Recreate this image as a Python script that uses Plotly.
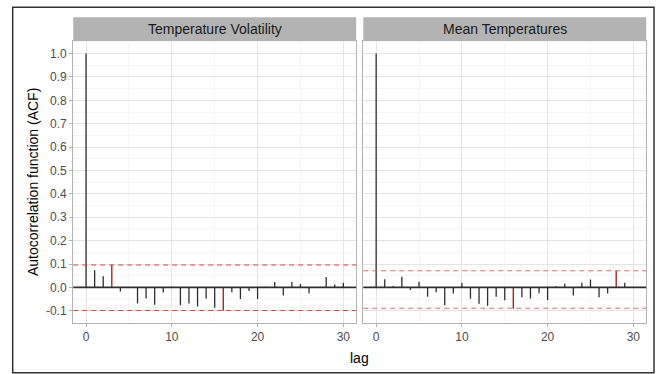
import plotly.graph_objects as go

# ---- data ----
lags = list(range(31))
acf_volatility = [1.0, 0.073, 0.048, 0.097, -0.018, -0.002, -0.069, -0.048, -0.074, -0.022,
                  -0.002, -0.076, -0.069, -0.082, -0.047, -0.087, -0.100, -0.021, -0.050, -0.015,
                  -0.050, 0.004, 0.023, -0.035, 0.023, 0.015, -0.025, 0.002, 0.044, 0.012, 0.020]
acf_mean = [1.0, 0.035, 0.006, 0.046, -0.011, 0.024, -0.040, -0.021, -0.076, -0.026,
            0.020, -0.049, -0.070, -0.079, -0.040, -0.055, -0.091, -0.042, -0.047, -0.025,
            -0.054, 0.005, 0.016, -0.035, 0.020, 0.034, -0.042, -0.026, 0.072, 0.020, 0.001]
ci_volatility = (-0.099, 0.096)
ci_mean = (-0.089, 0.071)
panel_titles = ["Temperature Volatility", "Mean Temperatures"]
y_tick_vals = [-0.1, 0.0, 0.1, 0.2, 0.3, 0.4, 0.5, 0.6, 0.7, 0.8, 0.9, 1.0]
y_tick_text = ["-0.1", "0.0", "0.1", "0.2", "0.3", "0.4", "0.5", "0.6", "0.7", "0.8", "0.9", "1.0"]
x_tick_vals = [0, 10, 20, 30]

W, H = 660, 374
FONT = "Liberation Sans, Arial, sans-serif"

def px_x(p):
    return p / W

def px_y(p):
    return 1 - p / H

panel_y = (px_y(322.7), px_y(40.7))
strip_y = (px_y(40.7), px_y(17.3))
panel_x = [(px_x(73.2), px_x(356.2)), (px_x(363.3), px_x(646.2))]

fig = go.Figure()

series = [acf_volatility, acf_mean]
cis = [ci_volatility, ci_mean]
dash_colors = ["rgba(222,60,50,0.95)", "rgba(210,100,90,0.9)"]

for i, (vals, ci) in enumerate(zip(series, cis)):
    xa = "x" if i == 0 else "x2"
    ya = "y" if i == 0 else "y2"
    groups = {"normal": ([], []), "signif": ([], [])}
    for lag, v in zip(lags, vals):
        key = "signif" if (lag > 0 and (v > ci[1] or v < ci[0])) else "normal"
        gx, gy = groups[key]
        gx += [lag, lag, None]
        gy += [0, v, None]
    fig.add_trace(go.Scatter(x=groups["normal"][0], y=groups["normal"][1], mode="lines",
                             line=dict(color="#2e2e2e", width=1.3), xaxis=xa, yaxis=ya,
                             showlegend=False, hoverinfo="skip"))
    fig.add_trace(go.Scatter(x=groups["signif"][0], y=groups["signif"][1], mode="lines",
                             line=dict(color="#b3201e", width=1.4), xaxis=xa, yaxis=ya,
                             showlegend=False, hoverinfo="skip"))
    xdom = "x domain" if i == 0 else "x2 domain"
    # zero line
    fig.add_shape(type="line", xref=xdom, yref=ya, x0=0, x1=1, y0=0, y1=0,
                  line=dict(color="#2e2e2e", width=1.7), layer="above")
    for c in ci:
        fig.add_shape(type="line", xref=xdom, yref=ya, x0=0, x1=1, y0=c, y1=c,
                      line=dict(color=dash_colors[i], width=1.1, dash="5px,4px"), layer="above")
    # strip
    fig.add_shape(type="rect", xref="paper", yref="paper",
                  x0=panel_x[i][0], x1=panel_x[i][1], y0=strip_y[0], y1=strip_y[1],
                  fillcolor="#b3b3b3", line=dict(width=0), layer="below")
    fig.add_annotation(text=panel_titles[i], xref="paper", yref="paper",
                       x=(panel_x[i][0] + panel_x[i][1]) / 2, y=(strip_y[0] + strip_y[1]) / 2,
                       showarrow=False, xanchor="center", yanchor="middle",
                       font=dict(family=FONT, size=14, color="#1a1a1a"))

# outer border
fig.add_shape(type="rect", xref="paper", yref="paper",
              x0=px_x(12.7), x1=px_x(654), y0=px_y(372.7), y1=px_y(7.3),
              line=dict(color="#333333", width=1.5), fillcolor="rgba(0,0,0,0)", layer="above")

# axis titles
fig.add_annotation(text="Autocorrelation function (ACF)", xref="paper", yref="paper",
                   x=px_x(33), y=px_y(182), textangle=-90, showarrow=False,
                   xanchor="center", yanchor="middle",
                   font=dict(family=FONT, size=14, color="#000000"))
fig.add_annotation(text="lag", xref="paper", yref="paper",
                   x=px_x(359.5), y=px_y(358), showarrow=False,
                   xanchor="center", yanchor="middle",
                   font=dict(family=FONT, size=14, color="#000000"))

grid_major = "#e4e4e4"
grid_minor = "#f2f2f2"
x_minor = [(a + b) / 2 for a, b in zip(x_tick_vals[:-1], x_tick_vals[1:])]
y_minor = [round(v + 0.05, 3) for v in y_tick_vals] + [-0.15]

common_x = dict(range=[-1.5, 31.5], tickmode="array", tickvals=x_tick_vals,
                ticks="outside", ticklen=3, tickcolor="#b3b3b3", tickwidth=1,
                showline=True, mirror=True, linecolor="#b3b3b3", linewidth=1,
                showgrid=True, gridcolor=grid_major, gridwidth=1, zeroline=False,
                tickfont=dict(family=FONT, size=12, color="#4d4d4d"),
                minor=dict(tickmode="array", tickvals=x_minor, showgrid=True,
                           gridcolor=grid_minor, gridwidth=0.7, ticks=""))
common_y = dict(range=[-0.151, 1.055], tickmode="array", tickvals=y_tick_vals,
                ticktext=y_tick_text, showline=True, mirror=True, linecolor="#b3b3b3",
                linewidth=1, showgrid=True, gridcolor=grid_major, gridwidth=1, zeroline=False,
                tickfont=dict(family=FONT, size=12, color="#4d4d4d"),
                minor=dict(tickmode="array", tickvals=y_minor, showgrid=True,
                           gridcolor=grid_minor, gridwidth=0.7, ticks=""))

fig.update_layout(
    width=W, height=H, autosize=False,
    margin=dict(l=0, r=0, t=0, b=0),
    paper_bgcolor="white", plot_bgcolor="white",
    font=dict(family=FONT),
    xaxis=dict(domain=list(panel_x[0]), anchor="y", fixedrange=True, **common_x),
    xaxis2=dict(domain=list(panel_x[1]), anchor="y2", fixedrange=True, **common_x),
    yaxis=dict(domain=list(panel_y), anchor="x", ticks="outside", ticklen=3,
               tickcolor="#b3b3b3", tickwidth=1, fixedrange=True, **common_y),
    yaxis2=dict(domain=list(panel_y), anchor="x2", ticks="", showticklabels=False,
                matches="y", fixedrange=True, **common_y),
    showlegend=False,
    hovermode=False,
)

fig.write_html("out.html", config={"displayModeBar": False, "staticPlot": True},
               post_script="document.body.style.margin='0';document.body.style.overflow='hidden';")
